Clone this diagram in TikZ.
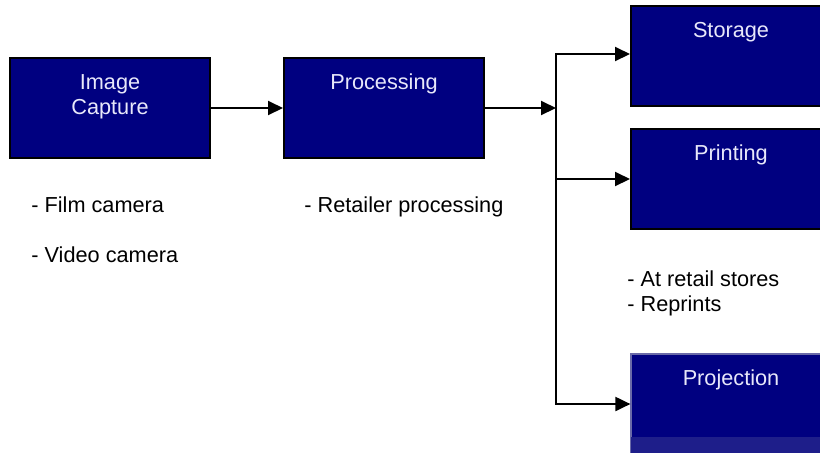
\documentclass[tikz,border=0pt]{standalone}
\usepackage{fontspec}
\setmainfont{Liberation Sans}
\usepackage{xcolor}
\usepackage{tikz}
\usetikzlibrary{arrows.meta,positioning,calc}
\definecolor{boxfill}{HTML}{000080}
\definecolor{boxtextcol}{HTML}{E8E8FA}
\definecolor{bandfill}{HTML}{1E1E8A}
\definecolor{softedge}{HTML}{6A6AA8}

\begin{document}
\begin{tikzpicture}[
    x=0.5pt,y=-0.5pt,
    font=\fontsize{10.85}{12.5}\selectfont,
    stage/.style={draw=black,line width=1pt,fill=boxfill,minimum width=100pt,minimum height=50pt,inner sep=0pt},
    stagetext/.style={anchor=base,text width=100pt,align=center,inner sep=0pt,text=boxtextcol},
    note/.style={anchor=base west,inner sep=0pt,align=left},
    arr/.style={-{Triangle[length=7.5pt,width=7pt]},line width=1pt,draw=black}
]
    \useasboundingbox (0,0) rectangle (820,452);

    % stage boxes
    \node[stage] (capture) at (110,108) {};
    \node[stage] (process) at (384,108) {};
    \node[stage] (storage) at (731,56) {};
    \node[stage] (printing) at (731,179) {};
    \node[stage,draw=softedge,line width=0.6pt] (projection) at (731,404) {};
    \fill[bandfill] (631,437) rectangle (831,454);

    % box titles
    \node[stagetext] (capturetxt) at ([yshift=-16pt]capture.north) {Image\\Capture};
    \node[stagetext] (processtxt) at ([yshift=-16pt]process.north) {Processing};
    \node[stagetext] (storagetxt) at ([yshift=-16pt]storage.north) {Storage};
    \node[stagetext] (printingtxt) at ([yshift=-16pt]printing.north) {Printing};
    \node[stagetext] (projectiontxt) at ([yshift=-16pt]projection.north) {Projection};

    % notes
    \node[note] (filmcam) at (31,212) {- Film camera};
    \node[note] (videocam) at (31,262) {- Video camera};
    \node[note] (retailer) at (304,212) {- Retailer processing};
    \node[note] (stores) at (627,311) {- At retail stores\\- Reprints};

    % connectors
    \coordinate (split) at (556,108);
    \draw[arr] (capture) -- (process);
    \draw[arr] (process) -- (split);
    \draw[arr] (split) |- ([yshift=1pt]storage.west);
    \draw[arr] (split) |- (printing.west);
    \draw[arr] (split) |- (projection.west);
\end{tikzpicture}
\end{document}
